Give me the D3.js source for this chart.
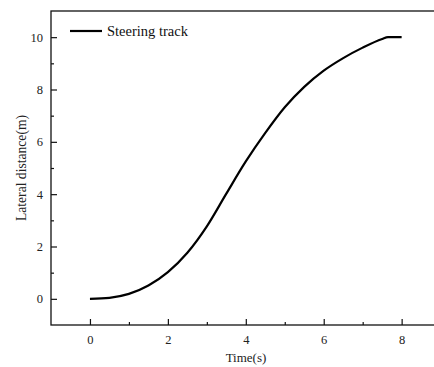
<!DOCTYPE html>
<html lang="en">
  <head>
    <meta charset='utf-8'>
    <script type="text/javascript" src="https://cdn.jsdelivr.net/npm/d3@7"></script>
  </head>
  <body style="margin:0;background:#fff;">
    <div id="chart"></div>
    <script type="text/javascript">
      // data
      var time=[0,0.5,1,1.5,2,2.5,3,3.5,4,4.5,5,5.5,6,6.5,7,7.5,7.65,8];
      var lateral=[0,0.04,0.19,0.51,1.02,1.76,2.77,4.02,5.25,6.34,7.32,8.1,8.72,9.2,9.6,9.93,10,10];
      var xTicks=[0,2,4,6,8];
      var yTicks=[0,2,4,6,8,10];
      var seriesName="Steering track";

      var font="font-family:'Liberation Serif';";
      var w=434, h=367;
      var svg=d3.select("#chart").append("svg")
        .attr("width",w).attr("height",h);

      var x=d3.scaleLinear().domain([-1,9]).range([51,440.6]);
      var y=d3.scaleLinear().domain([-1,11]).range([325,11]);

      //Frame
      svg.append("rect")
        .attr("x",x(-1)).attr("y",y(11))
        .attr("width",x(9)-x(-1)).attr("height",y(-1)-y(11))
        .attr("fill","none").attr("stroke","#111").attr("stroke-width",1.3);

      //Axes with inward ticks
      svg.append("g").attr("transform","translate(0,"+y(-1)+")")
        .call(d3.axisBottom(x).tickValues(xTicks).tickSize(-6).tickPadding(10).tickFormat(d3.format("d")));
      svg.append("g").attr("transform","translate(0,"+y(-1)+")")
        .call(d3.axisBottom(x).tickValues([1,3,5,7]).tickSize(-3).tickFormat(""));
      svg.append("g").attr("transform","translate("+x(-1)+",0)")
        .call(d3.axisLeft(y).tickValues(yTicks).tickSize(-6).tickPadding(8).tickFormat(d3.format("d")));
      svg.append("g").attr("transform","translate("+x(-1)+",0)")
        .call(d3.axisLeft(y).tickValues([1,3,5,7,9]).tickSize(-3).tickFormat(""));
      svg.selectAll(".domain").remove();
      svg.selectAll(".tick line").attr("stroke","#111").attr("stroke-width",1.2);
      svg.selectAll(".tick text").attr("style",font+"font-size:12.5px;fill:#222");

      //Axis titles
      svg.append("text").attr("x",246).attr("y",362).attr("text-anchor","middle")
        .attr("style",font+"font-size:13px;fill:#222").text("Time(s)");
      svg.append("text").attr("transform","translate(26,168) rotate(-90)").attr("text-anchor","middle")
        .attr("style",font+"font-size:13.6px;fill:#222").text("Lateral distance(m)");

      //Curve
      var line=d3.line().x(function(d,i){return x(time[i]);}).y(function(d){return y(d);}).curve(d3.curveMonotoneX);
      svg.append("path").datum(lateral)
        .attr("d",line).attr("fill","none").attr("stroke","#000").attr("stroke-width",2.2);

      //Legend
      svg.append("line").attr("x1",70).attr("x2",102).attr("y1",31).attr("y2",31)
        .attr("stroke","#000").attr("stroke-width",2.2);
      svg.append("text").attr("x",107).attr("y",36)
        .attr("style",font+"font-size:14.5px;fill:#111").text(seriesName);
    </script>
  </body>
</html>
